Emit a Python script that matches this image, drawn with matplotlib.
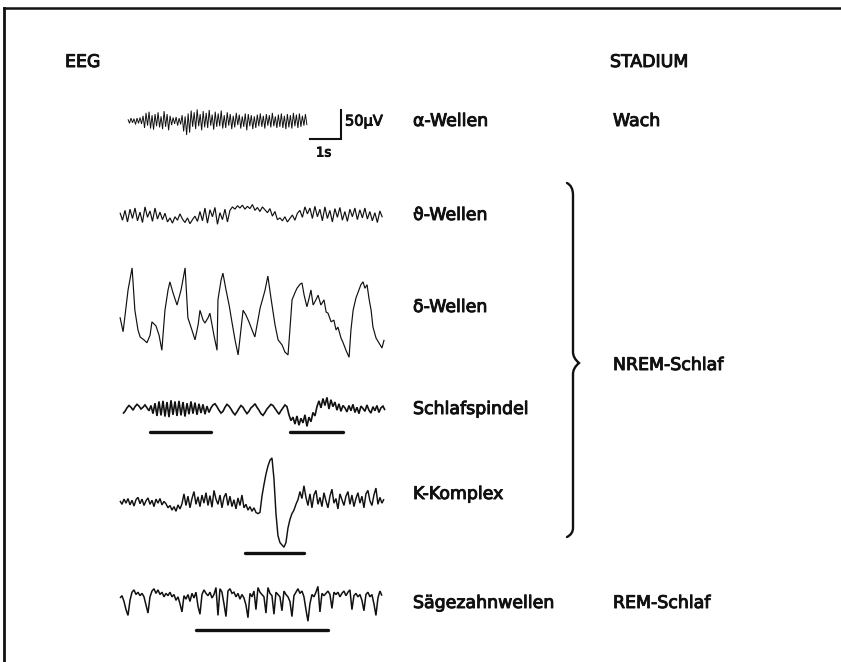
import numpy as np
import matplotlib
matplotlib.use("Agg")
import matplotlib.pyplot as plt
import matplotlib.patheffects as pe
from matplotlib.path import Path
from matplotlib.patches import PathPatch
from matplotlib.lines import Line2D

# ---------------------------------------------------------------- data (µV)
wave_labels = ["α-Wellen", "ϑ-Wellen", "δ-Wellen", "Schlafspindel",
               "K-Komplex", "Sägezahnwellen"]
stage_labels = ["Wach", "NREM-Schlaf", "REM-Schlaf"]

alpha_uv = [3, -4, 5, -3, 4, -6, 5, -4, 6, -5,
            9, -12, 14, -8, 16, -13, 10, -15, 12, -9,
            15, -11, 8, -14, 17, -10, 12, -16, 9, -7,
            6, -5, 7, -8, 5, -6, 10, -18, 8, -24,
            13, -20, 18, -10, 15, -14, 20, -9, 12, -16,
            17, -11, 14, -12, 19, -8, 11, -15, 16, -10,
            13, -9, 18, -13, 10, -12, 15, -8, 12, -14,
            9, -11, 14, -7, 11, -13, 8, -10, 13, -16,
            12, -9, 10, -14, 8, -12, 11, -9, 13, -10,
            9, -13, 12, -8, 10, -11, 14, -9, 8, -12,
            11, -10, 13, -12, 9, -14, 12, -11, 10, -13,
            14, -9, 11, -12, 13, -10, 9, -8, 12, -7]

theta_uv = [4, -9, 8, -12, 10, -6, 12, -10, 5, -13, 14, -4, 7, -11, 12, -7,
            5, -8, 3, -12, -5, -14, -3, -9, 2, -7, -13, -5, -15, -8, -2, -11,
            6, -10, 12, -14, 9, -3, 13, -16, 4, -8, 10, -12, 8, 14, 10, 16,
            12, 17, 10, 15, 11, 18, 8, 13, 6, 14, 9, 4, 11, -2, 6, -8,
            -5, -10, -3, -12, -6, 0, -9, 3, 8, -4, 14, 2, 12, -6, 15, -3,
            10, -10, 14, -6, 8, -12, 11, -4, 13, -9, 6, -11, 10, -3, 12, -8,
            9, -5, 12, -7, 6, -10, 4, -13, 7, -4]

delta_t = [0.00, 0.10, 0.26, 0.39, 0.48, 0.58, 0.65, 0.77, 0.87, 0.97,
           1.03, 1.16, 1.26, 1.35, 1.45, 1.55, 1.61, 1.71, 1.84, 1.97,
           2.10, 2.19, 2.32, 2.42, 2.52, 2.58, 2.68, 2.74, 2.84, 2.90,
           3.03, 3.13, 3.16, 3.26, 3.32, 3.42, 3.52, 3.61, 3.71, 3.81,
           3.90, 3.97, 4.06, 4.16, 4.26, 4.35, 4.45, 4.52, 4.61, 4.68,
           4.77, 4.87, 5.00, 5.10, 5.23, 5.32, 5.42, 5.48, 5.55, 5.65,
           5.71, 5.81, 5.87, 5.94, 6.03, 6.10, 6.16, 6.23, 6.32, 6.39,
           6.48, 6.58, 6.65, 6.71, 6.81, 6.90, 6.97, 7.03, 7.13, 7.19,
           7.29, 7.39, 7.45, 7.52, 7.61, 7.68, 7.77, 7.84, 7.90, 7.97,
           8.03, 8.10, 8.16, 8.26, 8.35, 8.45, 8.52]
delta_uv = [-9, -34, 38, 76, 3, -31, -43, -48, -53, -40,
            -17, -24, -40, -66, 3, 38, 52, 33, 12, 38,
            76, -10, -31, -48, -22, 3, -14, -19, -10, -2,
            -40, -66, 21, 55, 67, 38, 12, -17, -48, -74,
            -31, 3, -5, -17, -31, -43, -14, 7, 24, 38,
            62, 24, -22, -48, -57, -69, -74, -31, 21, 34,
            41, 48, 50, 29, 9, 24, 38, 12, 21, 29,
            12, 21, 0, -2, -17, -14, -31, -26, -45, -52,
            -66, -78, -31, 3, 24, 34, 47, 52, 41, 47,
            24, 3, -26, -45, -53, -62, -48]

spindle_uv = [-8, -4, 2, 6, 3, -2, 4, 8, 5, 0, 3, 7, 2, -3,
              6, -8, 10, -12, 13, -11, 14, -13, 12, -14, 15, -10, 13, -12, 14,
              -11, 12, -13, 10, -9, 13, -8, 11, -10, 9, -7, 8, -9, 5, -6,
              2, 7, 9, 4, -2, -7, -4, 3, 8, 5, 0, -6, -10, -5, 1, 6, 3, -3,
              -8, -4, 2, 5, 9, 3, -2, -8, -11, -6, 0, 4, 8, 6, 1, -4, -9, -3,
              2, 7, 4,
              -10, -20, -14, -26, -12, -28, -16, -24, -10, -30, -14, -22, -6,
              -12, 4, 14, 2, 18, 6, 20, 0, 16, 4, 12, -2, 9, -4, 6,
              2, -5, 6, -3, 8, -6, 3, -8, 5, 1, -4, 7, -2, -7, 4, -3, 6, -6,
              2, 5, -2]

kcomplex_uv = [2, -4, 5, -2, 6, -5, 3, -7, 4, 8, -3, 5, -6, 2, 7, -4, 3, -8,
               5, -2, 6, -5, 1, -3,
               -10, -6, -14, -8, -16, -5, -12, -3,
               14, -6, 10, -10, 6, 18, -4, 9, -8, 12, -2, 16, -6, 11, -9, 20,
               5, -4, 12, -10, 8, 15, -6,
               10, -8, 4, -12, 7, -6, 12, -10, -4, -14, -8, -16, -10, -18, -20,
               -18, 10, 30, 48, 62, 72, 76, 40, -20, -58, -70, -74, -78, -70,
               -45, -30, -20, -14, -4, 4,
               18, 6, 28, 8, -6, 14, -10, 12, 20, -4, 8, -8, 16, 2, -10, 10,
               22, -2, 6, -12, 14, 4, -6, 10, 18, -4, 12, -8, 6, 16, -2, 10,
               -10, 14, 20, 2, -6, 12, 24, -4, 8, -2, 5]

sawtooth_uv = [0, 4, -6, -20, -30, -4, 10, 14, 6, 10, 4, 8, 2, -12, -26, 2,
               12, 16, 8, 14, 6, 10, 2, 8, 4, 10, 2, 6, -4, 2, -10, -24,
               4, -2, 6, -6, 8, 0, 10, -14, -28, 6, 14, 8, 4, 10, 0, 6,
               18, -30, 16, 10, -10, -32, 12, 16, 8, 10, 2, 8, -2, 6, 0, -12,
               -34, 8, 2, 12, -20, 18, 10, 6, 2, -26, 18, 8, 4, -28, 10, 6,
               2, -22, 12, 6, 2, -6, -32, 4, 10, 16, 8, 12, 2, -20, -40, -10,
               6, 2, 10, 20, -24, 8, 4, 8, 12, 6, -18, 10, 6, 10, 2, 8,
               12, 4, 10, 14, -20, 4, 8, 2, 6, -4, -22, 6, 10, 2, 6, -10,
               -30, 0, 12, 4]

# ---------------------------------------------------------------- canvas
W, H = 841, 662
PX_PER_S = 31.0            # 1 s of recording
PX_PER_UV = 29.0 / 50.0    # 50 µV of amplitude
INK = "#111111"

fig = plt.figure(figsize=(W / 100, H / 100), dpi=100)
fig.patch.set_facecolor("white")
ax = fig.add_axes([0, 0, 1, 1])
ax.set_xlim(0, W / PX_PER_S)
ax.set_ylim(-H / PX_PER_UV, 0)
ax.axis("off")


def pos(xp, yp):
    """Page position (pixels from top-left) -> (s, µV) on the recording axes."""
    return xp / PX_PER_S, -yp / PX_PER_UV


def trace(values, x0, base, dt, lw=1.0, times=None):
    t0, v0 = pos(x0, base)
    if times is None:
        t = t0 + np.arange(len(values)) * dt
    else:
        t = t0 + np.asarray(times)
    ax.plot(t, v0 + np.asarray(values, float), color=INK, lw=lw,
            solid_joinstyle="miter", solid_capstyle="butt")


def underline(x0, x1, y):
    (a, v), (b, _) = pos(x0, y), pos(x1, y)
    ax.plot([a, b], [v, v], color=INK, lw=2.4, solid_capstyle="round")


trace(alpha_uv, 128, 121, 0.0485, lw=0.7)
trace(theta_uv, 120, 215, 0.0806, lw=0.85)
trace(delta_uv, 120, 312, None, lw=0.85, times=delta_t)
trace(spindle_uv, 123, 409, 0.0645, lw=1.2)
trace(kcomplex_uv, 120, 502, 0.0645, lw=1.05)
trace(sawtooth_uv, 120, 598, 0.0645, lw=1.1)

underline(150, 211, 432)
underline(290, 343, 432)
underline(245, 304, 553)
underline(196, 328, 630)

# calibration: 1 s horizontal, 50 µV vertical
cx, cy = pos(341, 139)
ax.plot([cx - 1.0, cx, cx], [cy, cy, cy + 50], color=INK, lw=1.5,
        solid_joinstyle="miter")

# curly brace grouping the NREM stages
bx = [567, 573, 573, 573, 573, 579, 573, 573, 573, 573, 567]
by = [183, 186, 195, 352, 358, 363, 368, 374, 528, 534, 537]
verts = [pos(x, y) for x, y in zip(bx, by)]
codes = [Path.MOVETO, Path.CURVE3, Path.CURVE3, Path.LINETO, Path.CURVE3,
         Path.CURVE3, Path.CURVE3, Path.CURVE3, Path.LINETO, Path.CURVE3,
         Path.CURVE3]
ax.add_patch(PathPatch(Path(verts, codes), fill=False, lw=1.7,
                       edgecolor=INK, capstyle="round"))

# ---------------------------------------------------------------- text
heavy = [pe.withStroke(linewidth=0.7, foreground=INK)]


def label(x, y, s, size=12.5):
    fig.text(x / W, 1 - y / H, s, ha="left", va="center", fontsize=size,
             color=INK, family="DejaVu Sans", path_effects=heavy)


label(65, 62, "EEG")
label(610, 62, "STADIUM")
label(345, 121, "50µV", size=10.5)
label(316, 153, "1s", size=9.5)

label_y = [121, 215, 307, 409, 494, 603]
for s, y in zip(wave_labels, label_y):
    label(413, y, s)
for s, y in zip(stage_labels, [121, 365, 603]):
    label(613, y, s)

# frame: top rule and left rule
fig.add_artist(Line2D([4 / W, 1], [1 - 8 / H, 1 - 8 / H], color=INK,
                      lw=1.8, transform=fig.transFigure))
fig.add_artist(Line2D([4 / W, 4 / W], [1 - 8 / H, 0], color=INK,
                      lw=2.0, transform=fig.transFigure))

fig.savefig("out.png", dpi=100, facecolor="white")
